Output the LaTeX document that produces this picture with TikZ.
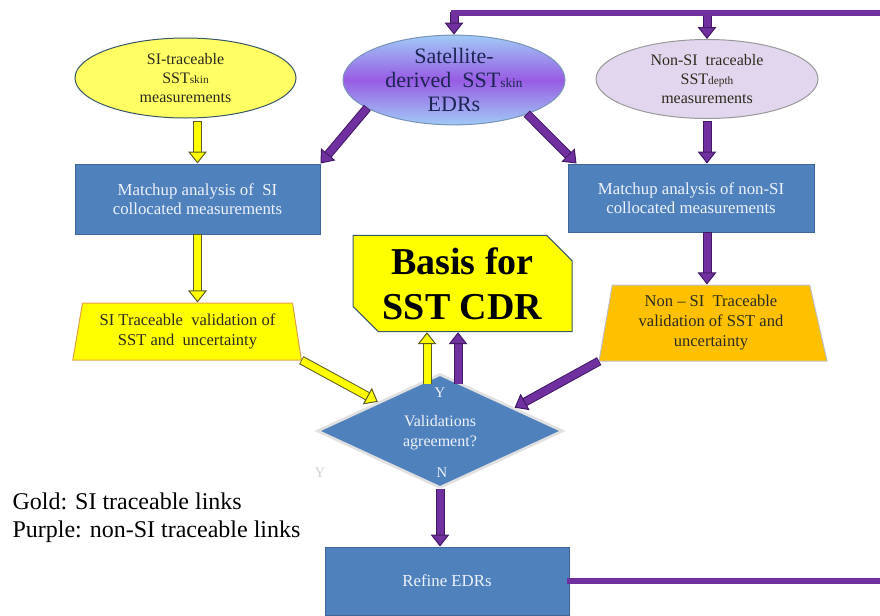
\documentclass[tikz,border=0pt]{standalone}
\usepackage{fontspec}
\setmainfont{Liberation Serif}
\usetikzlibrary{shapes.geometric,shapes.misc,arrows.meta,calc}

\definecolor{goldfill}{RGB}{255,255,0}
\definecolor{goldedge}{RGB}{92,92,36}
\definecolor{paleyellow}{RGB}{255,255,100}
\definecolor{purplink}{RGB}{112,48,160}
\definecolor{purpedge}{RGB}{66,26,100}
\definecolor{boxblue}{RGB}{79,129,189}
\definecolor{boxedge}{RGB}{62,102,152}
\definecolor{boxtext}{RGB}{238,242,249}
\definecolor{lavender}{RGB}{226,214,238}
\definecolor{satblue}{RGB}{160,202,246}
\definecolor{satpurple}{RGB}{152,92,228}
\definecolor{sattext}{RGB}{28,38,84}
\definecolor{ambertrap}{RGB}{255,192,0}
\definecolor{slateedge}{RGB}{58,88,100}
\definecolor{darktext}{RGB}{44,44,30}
\definecolor{trapedge}{RGB}{226,160,70}

\tikzset{every picture/.style={line width=0.75pt}}
\tikzset{
  bluebox/.style={draw=boxedge, fill=boxblue, text=boxtext, inner sep=0pt,
    font=\fontsize{12.6}{14.25}\selectfont, align=center},
  goldlink/.style={draw=goldfill, line width=5.25pt,
    preaction={draw=goldedge, line width=6.75pt, arrows=-, shorten >=8pt, shorten <=-0.6pt},
    -{Triangle[width=14pt,length=9pt,fill=goldfill,color=goldedge,line width=0.75pt]}},
  purplelink/.style={draw=purplink, line width=5.25pt,
    preaction={draw=purpedge, line width=6.75pt, arrows=-, shorten >=8pt, shorten <=-0.6pt},
    -{Triangle[width=14pt,length=9pt,fill=purplink,color=purpedge,line width=0.75pt]}},
  loopline/.style={draw=purplink, line width=4.5pt, line cap=rect},
}

\begin{document}
\begin{tikzpicture}[x=0.75pt,y=0.75pt,yscale=-1]
\useasboundingbox (0,0) rectangle (880,615);

%Shape: Ellipse
\node (lsi) [ellipse, draw=slateedge, fill=paleyellow, minimum width=165.75pt, minimum height=60pt,
  inner sep=0pt, text=darktext, font=\fontsize{12}{14.5}\selectfont, align=center]
  at (185.5,78) {SI-traceable\\SST{\fontsize{8.5}{8.5}\selectfont skin}\\measurements};
%Shape: Ellipse
\node (sat) [ellipse, draw=boxedge!70, top color=satblue, bottom color=satblue, middle color=satpurple,
  minimum width=166.5pt, minimum height=63pt, inner sep=0pt, text=sattext,
  font=\fontsize{16.5}{18}\selectfont, align=center]
  at (454,80) {Satellite-\\derived\ \ SST{\fontsize{10}{10}\selectfont skin}\\EDRs};
%Shape: Ellipse
\node (rsi) [ellipse, draw=gray!80, fill=lavender, minimum width=166.5pt, minimum height=59.25pt,
  inner sep=0pt, text=darktext, font=\fontsize{12}{14.5}\selectfont, align=center]
  at (707,79) {Non-SI\ \ traceable\\SST{\fontsize{8.5}{8.5}\selectfont depth}\\measurements};

%Shape: Rectangle
\node (lbox) [bluebox, minimum width=183.75pt, minimum height=52.5pt] at (197.5,199)
  {Matchup analysis of\ \ SI\\collocated measurements};
%Shape: Rectangle
\node (rbox) [bluebox, minimum width=184.5pt, minimum height=51pt] at (691,198)
  {Matchup analysis of non-SI\\collocated measurements};

%Shape: Trapezoid
\node (ltrap) [trapezium, trapezium stretches=true, trapezium left angle=77, trapezium right angle=78,
  draw=trapedge, fill=goldfill, minimum width=171.75pt, minimum height=42.75pt, inner sep=0pt,
  text=darktext, font=\fontsize{12.4}{15}\selectfont, align=center]
  at (187.5,331.5) {SI Traceable\ \ validation of\\SST and\ \ uncertainty};
%Shape: Trapezoid
\node (rtrap) [trapezium, trapezium stretches=true, trapezium left angle=80, trapezium right angle=77,
  draw=gray!50, fill=ambertrap, minimum width=171pt, minimum height=57pt, inner sep=0pt,
  text=darktext, font=\fontsize{12.4}{15}\selectfont, align=center]
  at (711,323) {Non – SI\ \ Traceable\\validation of SST and\\uncertainty};

%Shape: Snip Rectangle
\node (basis) [chamfered rectangle, chamfered rectangle corners={north east,south west},
  chamfered rectangle xsep=10pt, chamfered rectangle ysep=9pt,
  draw=slateedge, fill=goldfill, minimum width=164.25pt, minimum height=69.75pt, inner sep=0pt,
  font=\fontsize{28.5}{34}\selectfont\bfseries, align=center]
  at (462.5,283.5) {Basis for\\SST CDR};

%Shape: Diamond
\node (val) [diamond, draw=white!88!black, line width=2pt, fill=boxblue, aspect=2.15,
  minimum width=184.5pt, minimum height=85.5pt, inner sep=0pt, text=boxtext,
  font=\fontsize{12}{15}\selectfont, align=center]
  at (440,431) {\\[-4pt]Validations\\agreement?};

%Shape: Rectangle
\node (ref) [bluebox, minimum width=183pt, minimum height=51pt] at (447,581) {Refine EDRs};

% Text Node
\node (yes) [text=boxtext, font=\fontsize{11}{11}\selectfont] at (440,393) {Y};
% Text Node
\node (no) [text=boxtext, font=\fontsize{11}{11}\selectfont] at (442,473) {N};
% Text Node
\node (ghost) [text=black!18, font=\fontsize{11}{11}\selectfont] at (320,473) {Y};
% Text Node
\node (legend) [anchor=north west, inner sep=0pt, font=\fontsize{18}{21.5}\selectfont, align=left]
  at (12,492) {Gold: SI traceable links\\Purple: non-SI traceable links};

\coordinate (tr) at (880,13);
\coordinate (br) at (880,581);
\coordinate (vy) at ($(val.north)+(-13,11)$);
\coordinate (vp) at ($(val.north)+(18,11)$);

%Straight Lines
\draw [purplelink] (sat.north |- tr) -- (sat.north);
\draw [purplelink] (rsi.north |- tr) -- (rsi.north);
\draw [loopline] (tr) -- (sat.north |- tr);
%Straight Lines
\draw [goldlink] ($(lbox.north |- lsi.south)+(0,3)$) -- (lbox.north);
\draw [purplelink] (sat.198) -- (lbox.north east);
\draw [purplelink] (sat.-25) -- ($(rbox.north west)+(9,0)$);
\draw [purplelink] ($(rsi.south)+(0,3)$) -- (rsi.south |- rbox.north);
%Straight Lines
\draw [goldlink] (lbox.south) -- (lbox.south |- ltrap.north);
\draw [purplelink] (rsi.south |- rbox.south) -- (rsi.south |- rtrap.north);
%Straight Lines
\draw [goldlink] (ltrap.bottom right corner) -- (val.north west);
\draw [purplelink] (rtrap.bottom left corner) -- ($(val.north)!0.6!(val.east)$);
%Straight Lines
\draw [goldlink] (vy) -- (vy |- basis.south);
\draw [purplelink] (vp) -- (vp |- basis.south);
\draw [purplelink] (val.south) -- (val.south |- ref.north);
%Straight Lines
\draw [loopline] (ref.east) -- (br);

\end{tikzpicture}
\end{document}
